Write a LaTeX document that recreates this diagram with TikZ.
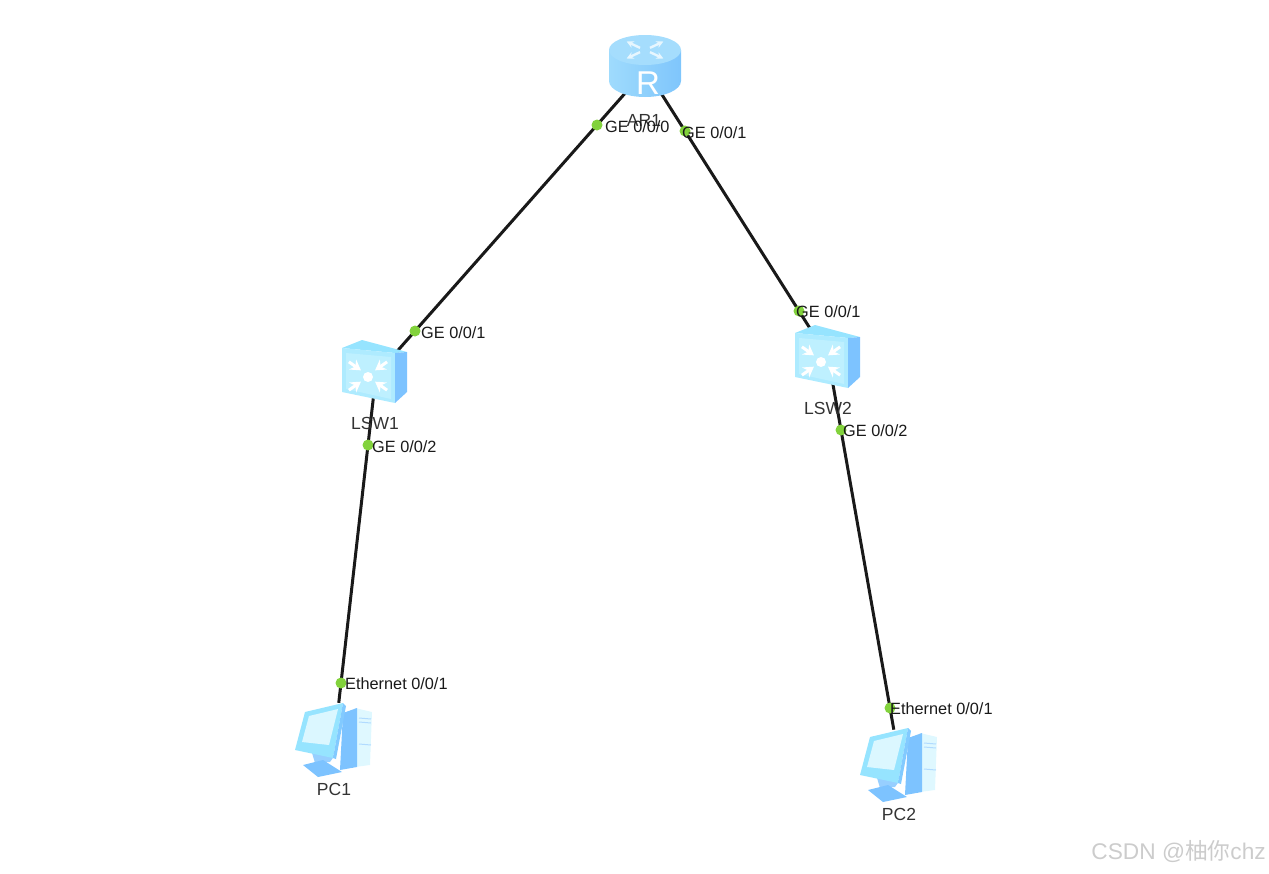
\documentclass[tikz,border=0pt]{standalone}
\usepackage{fontspec}
\setmainfont{Liberation Sans}
\newfontfamily\cjkfont{Noto Sans CJK SC}
\usetikzlibrary{arrows.meta}
\definecolor{iconpale}{RGB}{190,240,255}
\definecolor{iconcyan}{RGB}{150,228,255}
\definecolor{iconblue}{RGB}{125,195,255}
\definecolor{iconmid}{RGB}{135,210,252}
\definecolor{portgreen}{RGB}{130,210,60}
\tikzset{
  link/.style={line width=3pt,color=black!90},
  portdot/.style={circle,fill=portgreen,minimum size=11pt,inner sep=0pt},
  portlabel/.style={anchor=west,inner sep=0pt,font=\fontsize{16.3}{16}\selectfont,text=black!90},
  devlabel/.style={inner sep=0pt,font=\fontsize{17.5}{18}\selectfont,text=black!80},
  routericon/.pic={
    \shade[left color=iconmid!80!white,right color=iconmid!94!blue] (-36,-16) -- (-36,15) arc[start angle=180,end angle=0,x radius=36,y radius=16] -- (36,-16) -- cycle;
    \fill[iconmid!75!white] (0,-16) ellipse[x radius=36,y radius=15];
    \foreach \a in {45,135,225,315}
      \draw[white!80!iconmid,line width=2.4pt,-{Stealth[length=7pt,width=7pt]}] ([shift={(0,-16)}]\a:7 and 3) -- ([shift={(0,-16)}]\a:26 and 12);
    \node[text=white,inner sep=0pt,font=\fontsize{33}{33}\selectfont] at (3,17) {R};
  },
  switchicon/.pic={
    \fill[iconcyan] (-32,-24) -- (-12,-32) -- (33,-20) -- (21,-19) -- cycle;
    \fill[iconpale!60!iconcyan] (-32,-24) -- (21,-19) -- (21,31) -- (-32,20) -- cycle;
    \fill[iconblue] (21,-19) -- (33,-20) -- (33,20) -- (21,31) -- cycle;
    \fill[iconpale] (-28,-19) -- (17,-15) -- (17,27) -- (-28,17) -- cycle;
    \fill[white] (-6,5) circle (5);
    \foreach \a in {45,135,225,315}
      \draw[white,line width=3pt,-{Stealth[length=10pt,width=12pt]}] ([shift={(-6,4)}]\a:27 and 20) -- ([shift={(-6,4)}]\a:10 and 8);
  },
  pcicon/.pic={
    \fill[iconpale!50!white] (20,-27) -- (37,-23) -- (35,30) -- (20,32) -- cycle;
    \foreach \b in {-17,-13,9}
      \draw[iconblue!60!white,line width=1pt] (24,\b) -- (36,\b+1);
    \fill[iconblue] (8,-22) -- (22,-27) -- (22,32) -- (5,35) -- cycle;
    \fill[iconblue!80!white] (-23,18) -- (0,20) -- (-5,27) -- (-20,28) -- cycle;
    \fill[iconblue] (-32,30) -- (-12,25) -- (7,37) -- (-17,42) -- cycle;
    \fill[iconcyan] (-30,-23) -- (8,-32) -- (-2,23) -- (-40,15) -- cycle;
    \fill[iconpale!55!white] (-26,-19) -- (3,-26) -- (-6,10) -- (-33,7) -- cycle;
    \fill[iconblue!80!iconcyan] (8,-32) -- (11,-29) -- (1,24) -- (-2,23) -- cycle;
  }
}
\begin{document}
\begin{tikzpicture}[x=1pt,y=-1pt]
  \useasboundingbox (0,0) rectangle (1269,873);
  % devices
  \coordinate (AR1) at (645,66);
  \coordinate (LSW1) at (374,372);
  \coordinate (LSW2) at (827,357);
  \coordinate (PC1) at (335,735);
  \coordinate (PC2) at (900,760);
  % ports
  \coordinate (AR1e0) at (597,125);
  \coordinate (AR1e1) at (685,131);
  \coordinate (LSW1e1) at (415,331);
  \coordinate (LSW1e2) at (368,445);
  \coordinate (LSW2e1) at (799,311);
  \coordinate (LSW2e2) at (841,430);
  \coordinate (PC1e1) at (341,683);
  \coordinate (PC2e1) at (890,708);
  % links
  \draw[link,shorten <=-45pt,shorten >=-30pt] (AR1e0) -- (LSW1e1);
  \draw[link,shorten <=-45pt,shorten >=-25pt] (AR1e1) -- (LSW2e1);
  \draw[link,shorten <=-50pt,shorten >=-20pt] (LSW1e2) -- (PC1e1);
  \draw[link,shorten <=-50pt,shorten >=-22pt] (LSW2e2) -- (PC2e1);
  % icons
  \pic at (AR1) {routericon};
  \pic at (LSW1) {switchicon};
  \pic at (LSW2) {switchicon};
  \pic at (PC1) {pcicon};
  \pic at (PC2) {pcicon};
  \foreach \p in {AR1e0,AR1e1,LSW1e1,LSW1e2,LSW2e1,LSW2e2,PC1e1,PC2e1}
    \node[portdot] (\p dot) at (\p) {};
  % labels
  \node[devlabel] (AR1name) at (644,120) {AR1};
  \node[devlabel] (LSW1name) at (375,423) {LSW1};
  \node[devlabel] (LSW2name) at (828,408) {LSW2};
  \node[devlabel] (PC1name) at (334,789) {PC1};
  \node[devlabel] (PC2name) at (899,814) {PC2};
  \node[portlabel] (AR1e0text) at (605,127) {GE 0/0/0};
  \node[portlabel] (AR1e1text) at (682,133) {GE 0/0/1};
  \node[portlabel] (LSW1e1text) at (421,332.5) {GE 0/0/1};
  \node[portlabel] (LSW1e2text) at (372,446.5) {GE 0/0/2};
  \node[portlabel] (LSW2e1text) at (796,311.5) {GE 0/0/1};
  \node[portlabel] (LSW2e2text) at (843,430.5) {GE 0/0/2};
  \node[portlabel] (PC1e1text) at (345,683.5) {Ethernet 0/0/1};
  \node[portlabel] (PC2e1text) at (890,708.5) {Ethernet 0/0/1};
  \node[anchor=east,inner sep=0pt,text=black!20,font=\fontsize{22.7}{23}\selectfont] (mark) at (1266,852) {CSDN @{\cjkfont 柚你}chz};
\end{tikzpicture}
\end{document}
